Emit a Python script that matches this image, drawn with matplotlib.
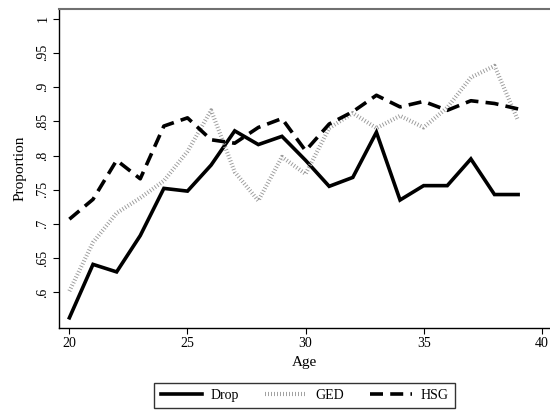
import matplotlib
matplotlib.use("Agg")
import matplotlib.pyplot as plt

plt.rcParams["font.family"] = ["Liberation Serif", "DejaVu Serif"]

age = list(range(20, 40))
drop = [0.563, 0.641, 0.630, 0.683, 0.752, 0.748, 0.786, 0.836, 0.816, 0.828,
        0.793, 0.755, 0.768, 0.834, 0.735, 0.756, 0.756, 0.795, 0.743, 0.743]
ged = [0.602, 0.673, 0.716, 0.738, 0.763, 0.806, 0.866, 0.776, 0.734, 0.798,
       0.773, 0.840, 0.862, 0.840, 0.858, 0.841, 0.870, 0.914, 0.931, 0.851]
hsg = [0.707, 0.736, 0.793, 0.766, 0.843, 0.855, 0.823, 0.818, 0.841, 0.854,
       0.807, 0.846, 0.864, 0.888, 0.871, 0.879, 0.866, 0.880, 0.876, 0.868]

yticks = [0.6, 0.65, 0.7, 0.75, 0.8, 0.85, 0.9, 0.95, 1.0]
ylabels = [".6", ".65", ".7", ".75", ".8", ".85", ".9", ".95", "1"]
xticks = [20, 25, 30, 35, 40]

fig = plt.figure(figsize=(5.5, 4.15), dpi=100)
ax = fig.add_axes([59 / 550, 1 - 327.5 / 415, 491 / 550, 318.5 / 415])

ax.plot(age, drop, color="black", lw=2.6, solid_joinstyle="miter", label="Drop")
# fine gray hatching for GED
ax.plot(age, ged, color="#9a9a9a", lw=3.0, linestyle=(0, (0.22, 0.5)),
        dash_capstyle="butt", label="GED")
ax.plot(age, hsg, color="black", lw=2.6, linestyle=(0, (3.6, 2.0)), label="HSG")

ax.set_xlim(19.56, 40.35)
ax.set_ylim(0.5488, 1.014)
ax.set_xticks(xticks)
ax.set_yticks(yticks)
ax.set_yticklabels(ylabels, rotation=90, va="center")
ax.tick_params(direction="out", length=4, width=0.8, labelsize=10, pad=3)
ax.set_xlabel("Age", fontsize=11, labelpad=4)
ax.set_ylabel("Proportion", fontsize=11, labelpad=7)

ax.spines["right"].set_visible(False)
ax.spines["top"].set_color("#707070")
ax.spines["top"].set_linewidth(1.5)
ax.spines["left"].set_linewidth(1.0)
ax.spines["bottom"].set_linewidth(1.0)

leg = ax.legend(loc="upper center", bbox_to_anchor=(0.5, -0.152), ncol=3,
                fontsize=10, handlelength=3.0, handletextpad=0.6,
                columnspacing=1.9, fancybox=False, framealpha=1,
                borderpad=0.45)
leg.get_frame().set_edgecolor("#333333")
leg.get_frame().set_linewidth(1.0)

fig.savefig("out.png", dpi=100)
